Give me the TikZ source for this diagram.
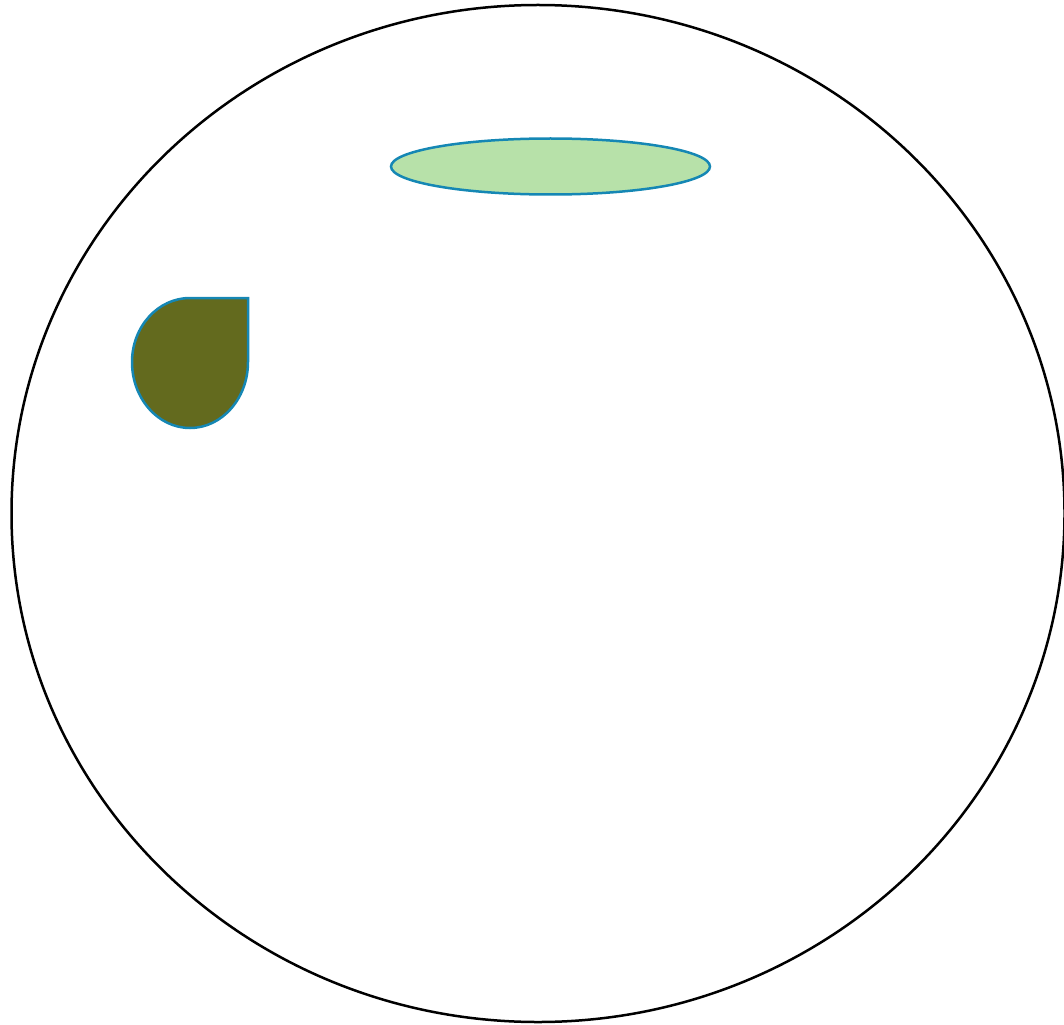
\documentclass[tikz,border=0pt]{standalone}
\definecolor{strokeblue}{HTML}{1587B4}
\definecolor{leafgreen}{HTML}{B7E1A9}
\definecolor{olive}{HTML}{636A1E}
\tikzset{
  outline/.style={draw=black, line width=2.5pt},
  shapeline/.style={draw=strokeblue, line width=2.5pt},
}
\begin{document}
\begin{tikzpicture}[x=1pt,y=-1pt]
\useasboundingbox (0,0) rectangle (1064,1024);
\draw[outline] (538,513.5) ellipse [x radius=526.5, y radius=508.5];
\draw[shapeline, fill=leafgreen] (550.5,166.5) ellipse [x radius=159.5, y radius=28];
\draw[shapeline, fill=olive]
  (132,362) arc [start angle=180, end angle=270, x radius=58, y radius=64]
  -- (248,298) -- (248,362)
  arc [start angle=0, end angle=180, x radius=58, y radius=66] -- cycle;
\end{tikzpicture}
\end{document}
